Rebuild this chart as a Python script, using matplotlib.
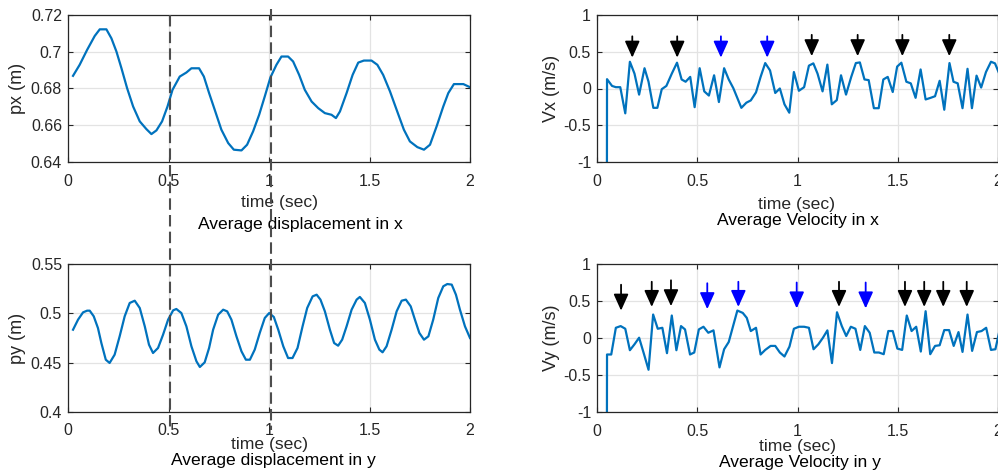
import matplotlib
matplotlib.use('Agg')
import matplotlib.pyplot as plt
from matplotlib.ticker import FuncFormatter
from matplotlib.lines import Line2D

plt.rcParams['font.family'] = ['Liberation Sans', 'DejaVu Sans']

W, H, DPI = 998, 474, 100

# ---------------- data ----------------
t_px = [0.025, 0.058, 0.095, 0.133, 0.158, 0.191, 0.216, 0.241, 0.266, 0.294, 0.324, 0.357, 0.390,
        0.415, 0.440, 0.468, 0.495, 0.520, 0.556, 0.589, 0.614, 0.652, 0.676, 0.702, 0.730, 0.763,
        0.797, 0.825, 0.863, 0.891, 0.921, 0.951, 0.979, 1.007, 1.037, 1.062, 1.095, 1.120, 1.150,
        1.178, 1.212, 1.245, 1.278, 1.311, 1.333, 1.353, 1.386, 1.416, 1.444, 1.472, 1.510, 1.539,
        1.568, 1.602, 1.635, 1.671, 1.701, 1.738, 1.771, 1.801, 1.834, 1.867, 1.892, 1.920, 1.967, 2.000]
px = [0.6869, 0.6929, 0.7010, 0.7086, 0.7122, 0.7122, 0.7073, 0.7001, 0.6910, 0.6802, 0.6702, 0.6621,
      0.6579, 0.6552, 0.6572, 0.6621, 0.6702, 0.6793, 0.6865, 0.6887, 0.6910, 0.6910, 0.6865, 0.6775,
      0.6684, 0.6576, 0.6503, 0.6467, 0.6463, 0.6494, 0.6567, 0.6657, 0.6757, 0.6860, 0.6929, 0.6974,
      0.6974, 0.6947, 0.6874, 0.6793, 0.6729, 0.6693, 0.6666, 0.6657, 0.6639, 0.6675, 0.6775, 0.6874,
      0.6941, 0.6952, 0.6952, 0.6929, 0.6874, 0.6784, 0.6684, 0.6576, 0.6512, 0.6481, 0.6467, 0.6494,
      0.6594, 0.6702, 0.6775, 0.6824, 0.6824, 0.6807]

t_py = [0.025, 0.050, 0.075, 0.095, 0.108, 0.128, 0.149, 0.166, 0.188, 0.207, 0.232, 0.257, 0.282,
        0.307, 0.332, 0.357, 0.382, 0.403, 0.423, 0.448, 0.473, 0.498, 0.523, 0.539, 0.564, 0.589,
        0.614, 0.639, 0.656, 0.680, 0.702, 0.722, 0.747, 0.772, 0.792, 0.813, 0.838, 0.863, 0.885,
        0.905, 0.929, 0.954, 0.979, 1.001, 1.024, 1.046, 1.071, 1.095, 1.117, 1.142, 1.167, 1.190,
        1.217, 1.237, 1.256, 1.278, 1.303, 1.324, 1.344, 1.364, 1.386, 1.411, 1.436, 1.452, 1.477,
        1.502, 1.527, 1.549, 1.565, 1.585, 1.610, 1.635, 1.660, 1.681, 1.705, 1.726, 1.748, 1.771,
        1.793, 1.817, 1.842, 1.867, 1.887, 1.909, 1.930, 1.950, 1.975, 2.000]
py = [0.4834, 0.4936, 0.5010, 0.5027, 0.5027, 0.4970, 0.4851, 0.4699, 0.4530, 0.4497, 0.4581, 0.4767,
      0.4970, 0.5105, 0.5128, 0.5054, 0.4868, 0.4682, 0.4598, 0.4649, 0.4784, 0.4936, 0.5030, 0.5044,
      0.5003, 0.4868, 0.4666, 0.4514, 0.4456, 0.4503, 0.4649, 0.4834, 0.4986, 0.5037, 0.5020, 0.4936,
      0.4767, 0.4615, 0.4530, 0.4530, 0.4632, 0.4801, 0.4953, 0.5003, 0.4963, 0.4834, 0.4666, 0.4547,
      0.4547, 0.4649, 0.4868, 0.5054, 0.5172, 0.5189, 0.5139, 0.5020, 0.4834, 0.4699, 0.4672, 0.4733,
      0.4868, 0.5037, 0.5139, 0.5166, 0.5105, 0.4936, 0.4733, 0.4632, 0.4605, 0.4666, 0.4834, 0.5020,
      0.5128, 0.5139, 0.5071, 0.4936, 0.4801, 0.4733, 0.4767, 0.4936, 0.5155, 0.5274, 0.5297, 0.5291,
      0.5189, 0.5037, 0.4868, 0.4750]

t_vx = [0.033, 0.050, 0.075, 0.094, 0.116, 0.141, 0.164, 0.187, 0.210, 0.237, 0.257, 0.281, 0.301,
        0.323, 0.346, 0.373, 0.399, 0.422, 0.442, 0.465, 0.487, 0.512, 0.535, 0.558, 0.584, 0.608,
        0.634, 0.657, 0.680, 0.720, 0.745, 0.767, 0.793, 0.816, 0.839, 0.863, 0.889, 0.912, 0.935,
        0.959, 0.982, 1.007, 1.033, 1.057, 1.079, 1.100, 1.125, 1.149, 1.171, 1.196, 1.217, 1.242,
        1.268, 1.291, 1.311, 1.334, 1.355, 1.381, 1.405, 1.428, 1.450, 1.475, 1.497, 1.518, 1.543,
        1.565, 1.589, 1.614, 1.639, 1.664, 1.686, 1.709, 1.732, 1.758, 1.778, 1.799, 1.823, 1.848,
        1.870, 1.893, 1.916, 1.940, 1.965, 1.985, 2.005]
vx = [-41.0, 0.127, 0.035, 0.018, 0.018, -0.338, 0.364, 0.202, -0.083, 0.276, 0.092, -0.263, -0.263,
      -0.009, 0.035, 0.202, 0.351, 0.123, 0.092, 0.158, -0.254, 0.276, -0.039, -0.096, 0.180, -0.184,
      0.276, 0.123, 0.004, -0.263, -0.193, -0.162, -0.053, 0.158, 0.346, 0.246, -0.061, 0.000, -0.215,
      -0.329, 0.224, -0.031, 0.018, 0.311, 0.342, 0.202, -0.039, 0.325, -0.215, -0.158, 0.180, -0.083,
      0.158, 0.346, 0.355, 0.123, 0.114, -0.268, -0.268, 0.123, 0.158, -0.048, 0.298, 0.351, 0.092,
      0.070, -0.127, 0.259, -0.149, -0.127, -0.105, 0.105, -0.289, 0.346, 0.092, 0.070, -0.268, 0.268,
      -0.268, 0.175, 0.013, 0.224, 0.364, 0.342, 0.210]

t_vy = [0.033, 0.050, 0.071, 0.094, 0.118, 0.141, 0.164, 0.187, 0.210, 0.233, 0.257, 0.280, 0.303,
        0.326, 0.349, 0.373, 0.396, 0.419, 0.439, 0.464, 0.485, 0.508, 0.531, 0.555, 0.581, 0.611,
        0.634, 0.657, 0.700, 0.727, 0.747, 0.767, 0.793, 0.816, 0.839, 0.866, 0.889, 0.912, 0.935,
        0.960, 0.982, 1.007, 1.033, 1.057, 1.080, 1.104, 1.127, 1.149, 1.172, 1.197, 1.221, 1.243,
        1.266, 1.289, 1.313, 1.336, 1.360, 1.383, 1.406, 1.430, 1.453, 1.475, 1.498, 1.522, 1.545,
        1.569, 1.592, 1.615, 1.639, 1.662, 1.686, 1.709, 1.732, 1.756, 1.779, 1.803, 1.823, 1.848,
        1.871, 1.895, 1.918, 1.941, 1.965, 1.987, 2.005]
vy = [-29.0, -0.223, -0.223, 0.138, 0.161, 0.125, -0.165, -0.085, 0.004, -0.205, -0.429, 0.317, 0.125,
      0.138, -0.205, 0.304, -0.165, 0.161, 0.116, -0.223, -0.196, 0.116, 0.152, 0.071, 0.103, -0.397,
      -0.152, -0.054, 0.371, 0.339, 0.272, 0.094, 0.138, -0.223, -0.161, -0.107, -0.107, -0.196, -0.250,
      -0.116, 0.125, 0.152, 0.152, 0.138, -0.152, -0.085, 0.004, 0.103, -0.339, 0.348, 0.161, 0.027,
      0.152, 0.125, -0.161, 0.161, 0.071, -0.196, -0.196, -0.219, 0.094, 0.094, -0.143, -0.161, 0.304,
      0.094, 0.152, -0.183, 0.362, -0.219, -0.107, -0.098, 0.107, 0.107, -0.107, 0.080, -0.188, 0.317,
      -0.174, 0.080, 0.094, 0.138, -0.161, -0.152, 0.070]

# arrow markers (time, tip, tail, colour)
vx_arrow_t = [0.176, 0.400, 0.618, 0.849, 1.071, 1.300, 1.523, 1.757]
vx_arrow_tip = [0.42, 0.42, 0.42, 0.42, 0.44, 0.44, 0.44, 0.44]
vx_arrow_tail = [0.71, 0.71, 0.71, 0.71, 0.73, 0.73, 0.73, 0.73]
vx_arrow_color = ['k', 'k', 'b', 'b', 'k', 'k', 'k', 'k']

vy_arrow_t = [0.120, 0.273, 0.369, 0.550, 0.705, 0.996, 1.207, 1.340, 1.536, 1.632, 1.727, 1.844]
vy_arrow_tip = [0.37, 0.42, 0.43, 0.39, 0.42, 0.40, 0.42, 0.40, 0.42, 0.42, 0.42, 0.42]
vy_arrow_tail = [0.72, 0.76, 0.78, 0.74, 0.76, 0.75, 0.76, 0.75, 0.76, 0.76, 0.76, 0.76]
vy_arrow_color = ['k', 'k', 'k', 'b', 'b', 'b', 'k', 'b', 'k', 'k', 'k', 'k']

marker_times = [0.507, 1.012]

x_ticks = [0, 0.5, 1, 1.5, 2]
# ---------------------------------------

LINE = '#0072BD'
DARK = '#262626'

fig = plt.figure(figsize=(W / DPI, H / DPI), dpi=DPI)


def rect(l, t, r, b):
    return [l / W, 1 - b / H, (r - l) / W, (b - t) / H]


fmt = FuncFormatter(lambda v, p: '%g' % round(v, 6))


def style(ax, ylim, yticks, ylabel, ylab_x, xpad=8.5):
    ax.set_xlim(0, 2)
    ax.set_ylim(*ylim)
    ax.set_xticks(x_ticks)
    ax.set_yticks(yticks)
    ax.xaxis.set_major_formatter(fmt)
    ax.yaxis.set_major_formatter(fmt)
    ax.grid(True, color='#e3e3e3', lw=0.9)
    ax.set_axisbelow(True)
    ax.tick_params(direction='in', length=3.5, width=0.8, top=True, right=True,
                   labelsize=11.5, colors=DARK)
    ax.tick_params(axis='x', pad=xpad)
    ax.tick_params(axis='y', pad=4.3)
    for s in ax.spines.values():
        s.set_color(DARK)
        s.set_linewidth(0.9)
    ax.set_ylabel(ylabel, fontsize=13, color=DARK)
    ax.yaxis.set_label_coords(ylab_x, 0.5)


ax_px = fig.add_axes(rect(68, 15, 470, 162))
ax_py = fig.add_axes(rect(68, 264, 470, 412))
ax_vx = fig.add_axes(rect(597, 15, 998, 162))
ax_vy = fig.add_axes(rect(597, 264, 998, 412))

ax_px.plot(t_px, px, color=LINE, lw=1.6)
style(ax_px, (0.64, 0.72), [0.64, 0.66, 0.68, 0.70, 0.72], 'px (m)', -0.105)
ax_py.plot(t_py, py, color=LINE, lw=1.6)
style(ax_py, (0.4, 0.55), [0.4, 0.45, 0.5, 0.55], 'py (m)', -0.105, xpad=7.8)
ax_vx.plot(t_vx, vx, color=LINE, lw=1.6)
style(ax_vx, (-1, 1), [-1, -0.5, 0, 0.5, 1], 'Vx (m/s)', -0.093)
ax_vy.plot(t_vy, vy, color=LINE, lw=1.6)
style(ax_vy, (-1, 1), [-1, -0.5, 0, 0.5, 1], 'Vy (m/s)', -0.093)


def arrows(ax, ts, tips, tails, cols):
    for t, tip, tail, c in zip(ts, tips, tails, cols):
        ax.annotate('', xy=(t, tip), xytext=(t, tail),
                    arrowprops=dict(arrowstyle='-|>,head_length=1.0,head_width=0.45',
                                    color=('#0000ff' if c == 'b' else 'black'),
                                    lw=1.3, mutation_scale=10, shrinkA=0, shrinkB=0))


arrows(ax_vx, vx_arrow_t, vx_arrow_tip, vx_arrow_tail, vx_arrow_color)
arrows(ax_vy, vy_arrow_t, vy_arrow_tip, vy_arrow_tail, vy_arrow_color)


# x labels (two lines, as text)
def ftext(x, y, s, color):
    fig.text(x / W, 1 - y / H, s, ha='center', va='center', fontsize=12.6, color=color)


ftext(280, 202, 'time (sec)', DARK)
ftext(300, 224, 'Average displacement in x', 'black')
ftext(270, 445, 'time (sec)', DARK)
ftext(273, 461, 'Average displacement in y', 'black')
ftext(797, 204, 'time (sec)', DARK)
ftext(798, 220, 'Average Velocity in x', 'black')
ftext(798, 447, 'time (sec)', DARK)
ftext(800, 463, 'Average Velocity in y', 'black')

# dashed marker lines across left column
fig.canvas.draw()
inv = fig.transFigure.inverted()
tops = [15, 9]
for t, top in zip(marker_times, tops):
    xd, _ = ax_px.transData.transform((t, 0.7))
    xf = inv.transform((xd, 0))[0]
    fig.add_artist(Line2D([xf, xf], [1 - top / H, 1 - 430 / H], transform=fig.transFigure,
                          color='#4d4d4d', lw=1.5, linestyle=(0, (5.5, 2.5)), zorder=10))

fig.savefig('out.png', dpi=DPI)
